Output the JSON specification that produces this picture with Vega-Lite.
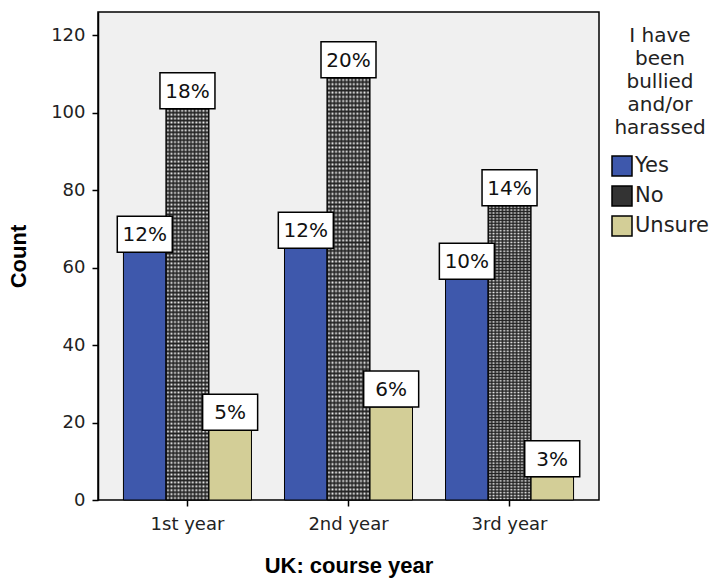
{
  "$schema": "https://vega.github.io/schema/vega-lite/v6.json",
  "width": 501,
  "height": 488,
  "autosize": {"type": "none"},
  "padding": {"left": 98, "top": 12, "right": 118, "bottom": 80},
  "background": "white",
  "config": {
    "view": {"fill": "#f0f0f0", "stroke": "#000", "strokeWidth": 1.5},
    "font": "DejaVu Sans"
  },
  "data": {
    "values": [
      {"year": "1st year", "response": "Yes", "count": 64, "pct": "12%"},
      {"year": "1st year", "response": "No", "count": 101, "pct": "18%"},
      {"year": "1st year", "response": "Unsure", "count": 18, "pct": "5%"},
      {"year": "2nd year", "response": "Yes", "count": 65, "pct": "12%"},
      {"year": "2nd year", "response": "No", "count": 109, "pct": "20%"},
      {"year": "2nd year", "response": "Unsure", "count": 24, "pct": "6%"},
      {"year": "3rd year", "response": "Yes", "count": 57, "pct": "10%"},
      {"year": "3rd year", "response": "No", "count": 76, "pct": "14%"},
      {"year": "3rd year", "response": "Unsure", "count": 6, "pct": "3%"}
    ]
  },
  "encoding": {
    "x": {
      "field": "year", "type": "nominal", "sort": ["1st year", "2nd year", "3rd year"],
      "scale": {"paddingInner": 0.205, "paddingOuter": 0.158},
      "axis": {
        "title": "UK: course year", "titleFont": "Liberation Sans", "titleFontSize": 22, "titleFontWeight": "bold", "titleColor": "#000",
        "labelFontSize": 18, "labelColor": "#222", "labelAngle": 0, "labelPadding": 9,
        "tickSize": 6, "tickColor": "#000", "tickWidth": 1.5, "domain": false, "titlePadding": 22
      }
    },
    "xOffset": {
      "field": "response", "type": "nominal",
      "scale": {"domain": ["Yes", "No", "Unsure"], "paddingInner": 0, "paddingOuter": 0}
    },
    "y": {
      "field": "count", "type": "quantitative", "stack": null,
      "scale": {"domain": [0, 126], "nice": false},
      "axis": {
        "values": [0, 20, 40, 60, 80, 100, 120], "grid": false,
        "title": "Count", "titleFont": "Liberation Sans", "titleFontSize": 22, "titleFontWeight": "bold", "titleColor": "#000",
        "labelFontSize": 18, "labelColor": "#222", "labelPadding": 7,
        "tickSize": 6, "tickColor": "#000", "tickWidth": 1.5, "domainColor": "#000", "domainWidth": 1.5, "titlePadding": 20
      }
    }
  },
  "layer": [
    {
      "mark": {"type": "bar", "stroke": "#000", "strokeWidth": 1},
      "encoding": {
        "color": {
          "field": "response", "type": "nominal",
          "scale": {"domain": ["Yes", "No", "Unsure"], "range": ["#3e58ac", "#333333", "#d3ce97"]},
          "legend": {
            "title": ["I have", "been", "bullied", "and/or", "harassed"],
            "orient": "none", "legendX": 513, "legendY": 14,
            "titleFontSize": 20, "titleFontWeight": "normal", "titleColor": "#222",
            "titleAlign": "center", "titleAnchor": "middle", "titleLineHeight": 23, "titleLimit": 200, "titlePadding": 17,
            "symbolType": "square", "symbolSize": 400, "symbolStrokeColor": "#000", "symbolStrokeWidth": 1.5, "symbolOpacity": 1,
            "labelFontSize": 21, "labelColor": "#222", "labelOffset": 2, "rowPadding": 4
          }
        }
      }
    },
    {
      "transform": [{"filter": "datum.response === 'No'"}],
      "mark": {
        "type": "bar",
        "fill": {
          "gradient": "linear", "x1": 0, "x2": 1, "y1": 0, "y2": 0,
          "stops": [
            {"offset": 0, "color": "#f2f2f200"}, {"offset": 0.04167, "color": "#f2f2f2"},
            {"offset": 0.08333, "color": "#f2f2f200"}, {"offset": 0.125, "color": "#f2f2f2"},
            {"offset": 0.16667, "color": "#f2f2f200"}, {"offset": 0.20833, "color": "#f2f2f2"},
            {"offset": 0.25, "color": "#f2f2f200"}, {"offset": 0.29167, "color": "#f2f2f2"},
            {"offset": 0.33333, "color": "#f2f2f200"}, {"offset": 0.375, "color": "#f2f2f2"},
            {"offset": 0.41667, "color": "#f2f2f200"}, {"offset": 0.45833, "color": "#f2f2f2"},
            {"offset": 0.5, "color": "#f2f2f200"}, {"offset": 0.54167, "color": "#f2f2f2"},
            {"offset": 0.58333, "color": "#f2f2f200"}, {"offset": 0.625, "color": "#f2f2f2"},
            {"offset": 0.66667, "color": "#f2f2f200"}, {"offset": 0.70833, "color": "#f2f2f2"},
            {"offset": 0.75, "color": "#f2f2f200"}, {"offset": 0.79167, "color": "#f2f2f2"},
            {"offset": 0.83333, "color": "#f2f2f200"}, {"offset": 0.875, "color": "#f2f2f2"},
            {"offset": 0.91667, "color": "#f2f2f200"}, {"offset": 0.95833, "color": "#f2f2f2"},
            {"offset": 1, "color": "#f2f2f200"}
          ]
        }
      }
    },
    {
      "transform": [{"filter": "datum.response === 'No'"}],
      "mark": {
        "type": "bar", "stroke": "#000", "strokeWidth": 1,
        "fill": {
          "gradient": "linear", "x1": 0, "x2": 0, "y1": 0, "y2": 1,
          "stops": [
            {"offset":0,"color":"#222222"},{"offset":0.005,"color":"#22222200"},{"offset":0.01,"color":"#222222"},{"offset":0.015,"color":"#22222200"},
            {"offset":0.02,"color":"#222222"},{"offset":0.025,"color":"#22222200"},{"offset":0.03,"color":"#222222"},{"offset":0.035,"color":"#22222200"},
            {"offset":0.04,"color":"#222222"},{"offset":0.045,"color":"#22222200"},{"offset":0.05,"color":"#222222"},{"offset":0.055,"color":"#22222200"},
            {"offset":0.06,"color":"#222222"},{"offset":0.065,"color":"#22222200"},{"offset":0.07,"color":"#222222"},{"offset":0.075,"color":"#22222200"},
            {"offset":0.08,"color":"#222222"},{"offset":0.085,"color":"#22222200"},{"offset":0.09,"color":"#222222"},{"offset":0.095,"color":"#22222200"},
            {"offset":0.1,"color":"#222222"},{"offset":0.105,"color":"#22222200"},{"offset":0.11,"color":"#222222"},{"offset":0.115,"color":"#22222200"},
            {"offset":0.12,"color":"#222222"},{"offset":0.125,"color":"#22222200"},{"offset":0.13,"color":"#222222"},{"offset":0.135,"color":"#22222200"},
            {"offset":0.14,"color":"#222222"},{"offset":0.145,"color":"#22222200"},{"offset":0.15,"color":"#222222"},{"offset":0.155,"color":"#22222200"},
            {"offset":0.16,"color":"#222222"},{"offset":0.165,"color":"#22222200"},{"offset":0.17,"color":"#222222"},{"offset":0.175,"color":"#22222200"},
            {"offset":0.18,"color":"#222222"},{"offset":0.185,"color":"#22222200"},{"offset":0.19,"color":"#222222"},{"offset":0.195,"color":"#22222200"},
            {"offset":0.2,"color":"#222222"},{"offset":0.205,"color":"#22222200"},{"offset":0.21,"color":"#222222"},{"offset":0.215,"color":"#22222200"},
            {"offset":0.22,"color":"#222222"},{"offset":0.225,"color":"#22222200"},{"offset":0.23,"color":"#222222"},{"offset":0.235,"color":"#22222200"},
            {"offset":0.24,"color":"#222222"},{"offset":0.245,"color":"#22222200"},{"offset":0.25,"color":"#222222"},{"offset":0.255,"color":"#22222200"},
            {"offset":0.26,"color":"#222222"},{"offset":0.265,"color":"#22222200"},{"offset":0.27,"color":"#222222"},{"offset":0.275,"color":"#22222200"},
            {"offset":0.28,"color":"#222222"},{"offset":0.285,"color":"#22222200"},{"offset":0.29,"color":"#222222"},{"offset":0.295,"color":"#22222200"},
            {"offset":0.3,"color":"#222222"},{"offset":0.305,"color":"#22222200"},{"offset":0.31,"color":"#222222"},{"offset":0.315,"color":"#22222200"},
            {"offset":0.32,"color":"#222222"},{"offset":0.325,"color":"#22222200"},{"offset":0.33,"color":"#222222"},{"offset":0.335,"color":"#22222200"},
            {"offset":0.34,"color":"#222222"},{"offset":0.345,"color":"#22222200"},{"offset":0.35,"color":"#222222"},{"offset":0.355,"color":"#22222200"},
            {"offset":0.36,"color":"#222222"},{"offset":0.365,"color":"#22222200"},{"offset":0.37,"color":"#222222"},{"offset":0.375,"color":"#22222200"},
            {"offset":0.38,"color":"#222222"},{"offset":0.385,"color":"#22222200"},{"offset":0.39,"color":"#222222"},{"offset":0.395,"color":"#22222200"},
            {"offset":0.4,"color":"#222222"},{"offset":0.405,"color":"#22222200"},{"offset":0.41,"color":"#222222"},{"offset":0.415,"color":"#22222200"},
            {"offset":0.42,"color":"#222222"},{"offset":0.425,"color":"#22222200"},{"offset":0.43,"color":"#222222"},{"offset":0.435,"color":"#22222200"},
            {"offset":0.44,"color":"#222222"},{"offset":0.445,"color":"#22222200"},{"offset":0.45,"color":"#222222"},{"offset":0.455,"color":"#22222200"},
            {"offset":0.46,"color":"#222222"},{"offset":0.465,"color":"#22222200"},{"offset":0.47,"color":"#222222"},{"offset":0.475,"color":"#22222200"},
            {"offset":0.48,"color":"#222222"},{"offset":0.485,"color":"#22222200"},{"offset":0.49,"color":"#222222"},{"offset":0.495,"color":"#22222200"},
            {"offset":0.5,"color":"#222222"},{"offset":0.505,"color":"#22222200"},{"offset":0.51,"color":"#222222"},{"offset":0.515,"color":"#22222200"},
            {"offset":0.52,"color":"#222222"},{"offset":0.525,"color":"#22222200"},{"offset":0.53,"color":"#222222"},{"offset":0.535,"color":"#22222200"},
            {"offset":0.54,"color":"#222222"},{"offset":0.545,"color":"#22222200"},{"offset":0.55,"color":"#222222"},{"offset":0.555,"color":"#22222200"},
            {"offset":0.56,"color":"#222222"},{"offset":0.565,"color":"#22222200"},{"offset":0.57,"color":"#222222"},{"offset":0.575,"color":"#22222200"},
            {"offset":0.58,"color":"#222222"},{"offset":0.585,"color":"#22222200"},{"offset":0.59,"color":"#222222"},{"offset":0.595,"color":"#22222200"},
            {"offset":0.6,"color":"#222222"},{"offset":0.605,"color":"#22222200"},{"offset":0.61,"color":"#222222"},{"offset":0.615,"color":"#22222200"},
            {"offset":0.62,"color":"#222222"},{"offset":0.625,"color":"#22222200"},{"offset":0.63,"color":"#222222"},{"offset":0.635,"color":"#22222200"},
            {"offset":0.64,"color":"#222222"},{"offset":0.645,"color":"#22222200"},{"offset":0.65,"color":"#222222"},{"offset":0.655,"color":"#22222200"},
            {"offset":0.66,"color":"#222222"},{"offset":0.665,"color":"#22222200"},{"offset":0.67,"color":"#222222"},{"offset":0.675,"color":"#22222200"},
            {"offset":0.68,"color":"#222222"},{"offset":0.685,"color":"#22222200"},{"offset":0.69,"color":"#222222"},{"offset":0.695,"color":"#22222200"},
            {"offset":0.7,"color":"#222222"},{"offset":0.705,"color":"#22222200"},{"offset":0.71,"color":"#222222"},{"offset":0.715,"color":"#22222200"},
            {"offset":0.72,"color":"#222222"},{"offset":0.725,"color":"#22222200"},{"offset":0.73,"color":"#222222"},{"offset":0.735,"color":"#22222200"},
            {"offset":0.74,"color":"#222222"},{"offset":0.745,"color":"#22222200"},{"offset":0.75,"color":"#222222"},{"offset":0.755,"color":"#22222200"},
            {"offset":0.76,"color":"#222222"},{"offset":0.765,"color":"#22222200"},{"offset":0.77,"color":"#222222"},{"offset":0.775,"color":"#22222200"},
            {"offset":0.78,"color":"#222222"},{"offset":0.785,"color":"#22222200"},{"offset":0.79,"color":"#222222"},{"offset":0.795,"color":"#22222200"},
            {"offset":0.8,"color":"#222222"},{"offset":0.805,"color":"#22222200"},{"offset":0.81,"color":"#222222"},{"offset":0.815,"color":"#22222200"},
            {"offset":0.82,"color":"#222222"},{"offset":0.825,"color":"#22222200"},{"offset":0.83,"color":"#222222"},{"offset":0.835,"color":"#22222200"},
            {"offset":0.84,"color":"#222222"},{"offset":0.845,"color":"#22222200"},{"offset":0.85,"color":"#222222"},{"offset":0.855,"color":"#22222200"},
            {"offset":0.86,"color":"#222222"},{"offset":0.865,"color":"#22222200"},{"offset":0.87,"color":"#222222"},{"offset":0.875,"color":"#22222200"},
            {"offset":0.88,"color":"#222222"},{"offset":0.885,"color":"#22222200"},{"offset":0.89,"color":"#222222"},{"offset":0.895,"color":"#22222200"},
            {"offset":0.9,"color":"#222222"},{"offset":0.905,"color":"#22222200"},{"offset":0.91,"color":"#222222"},{"offset":0.915,"color":"#22222200"},
            {"offset":0.92,"color":"#222222"},{"offset":0.925,"color":"#22222200"},{"offset":0.93,"color":"#222222"},{"offset":0.935,"color":"#22222200"},
            {"offset":0.94,"color":"#222222"},{"offset":0.945,"color":"#22222200"},{"offset":0.95,"color":"#222222"},{"offset":0.955,"color":"#22222200"},
            {"offset":0.96,"color":"#222222"},{"offset":0.965,"color":"#22222200"},{"offset":0.97,"color":"#222222"},{"offset":0.975,"color":"#22222200"},
            {"offset":0.98,"color":"#222222"},{"offset":0.985,"color":"#22222200"},{"offset":0.99,"color":"#222222"},{"offset":0.995,"color":"#22222200"},
            {"offset":1,"color":"#222222"}
          ]
        }
      }
    },
    {
      "mark": {"type": "bar", "fill": "white", "stroke": "#000", "strokeWidth": 1.5, "width": 55, "y2Offset": -36},
      "encoding": {"y2": {"field": "count"}}
    },
    {
      "mark": {"type": "text", "fontSize": 20, "yOffset": -17, "baseline": "middle", "align": "center", "color": "#111"},
      "encoding": {"text": {"field": "pct"}}
    }
  ]
}
